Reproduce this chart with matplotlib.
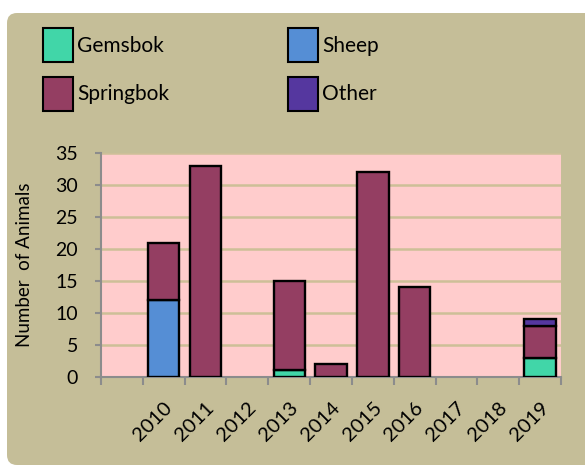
import numpy as np
import matplotlib
matplotlib.use('Agg')
import matplotlib.pyplot as plt
from matplotlib.patches import FancyBboxPatch, Patch

# data (first category is an unlabeled empty slot)
years = ['', '2010', '2011', '2012', '2013', '2014', '2015', '2016', '2017', '2018', '2019']
gemsbok = [0, 0, 0, 0, 1, 0, 0, 0, 0, 0, 3]
sheep = [0, 12, 0, 0, 0, 0, 0, 0, 0, 0, 0]
springbok = [0, 9, 33, 0, 14, 2, 32, 14, 0, 0, 5]
other = [0, 0, 0, 0, 0, 0, 0, 0, 0, 0, 1]

series = [('Gemsbok', gemsbok, '#41D6A8'),
          ('Sheep', sheep, '#558ED5'),
          ('Springbok', springbok, '#943E62'),
          ('Other', other, '#55379F')]

plt.rcParams['font.family'] = ['Lato', 'DejaVu Sans']

W, H = 585, 466
fig = plt.figure(figsize=(W / 100, H / 100), dpi=100, facecolor='white')

# tan rounded panel behind everything
panel = FancyBboxPatch((7, 1), 640, 452, boxstyle='round,pad=0,rounding_size=10',
                       transform=None, facecolor='#C5BE98', edgecolor='none', zorder=-5)
fig.patches.append(panel)

ax = fig.add_axes([101 / W, 1 - 376.7 / H, (561 - 101) / W, (376.7 - 153.3) / H])
ax.set_facecolor('#FFCCCC')

x = np.arange(len(years))
bottom = np.zeros(len(years))
for name, vals, col in series:
    vals = np.array(vals, dtype=float)
    mask = vals > 0
    ax.bar(x[mask], vals[mask], width=0.75, bottom=bottom[mask], color=col,
           edgecolor='black', linewidth=1.7, zorder=3)
    bottom += vals

ax.set_xlim(-0.5, len(years) - 0.5)
ax.set_ylim(0, 35)
ax.set_yticks(np.arange(0, 36, 5))
ax.yaxis.grid(True, color='#CDBF98', linewidth=1.8, zorder=1)
ax.set_axisbelow(True)

# category boundaries as tick marks, labels at centers
ax.set_xticks(x)
ax.set_xticklabels(years, rotation=45, ha='right', rotation_mode='anchor', fontsize=14.5)
ax.set_xticks(np.arange(-0.5, len(years)), minor=True)
ax.tick_params(axis='x', which='major', length=0, pad=16)
ax.tick_params(axis='x', which='minor', length=6, width=1.5, color='#8C8C8C')
ax.tick_params(axis='y', length=4.5, width=1.5, color='#8C8C8C', labelsize=14, pad=12)

for side in ['top', 'right']:
    ax.spines[side].set_visible(False)
for side in ['left', 'bottom']:
    ax.spines[side].set_color('#8C8C8C')
    ax.spines[side].set_linewidth(1.5)

ax.set_ylabel('Number  of Animals', fontsize=13.5, labelpad=16)

handles = [Patch(facecolor=c, edgecolor='black', linewidth=1.5) for _, _, c in series]
labels = [n for n, _, _ in series]
order = [0, 2, 1, 3]
fig.legend([handles[i] for i in order], [labels[i] for i in order], ncol=2,
           loc='upper left', bbox_to_anchor=(43 / W, 1 - 28 / H), frameon=False,
           fontsize=15, handlelength=1.44, handleheight=2.14, handletextpad=0.2,
           labelspacing=0.7, columnspacing=5.7, borderpad=0, borderaxespad=0)

fig.savefig('out.png', dpi=100, facecolor='white')
